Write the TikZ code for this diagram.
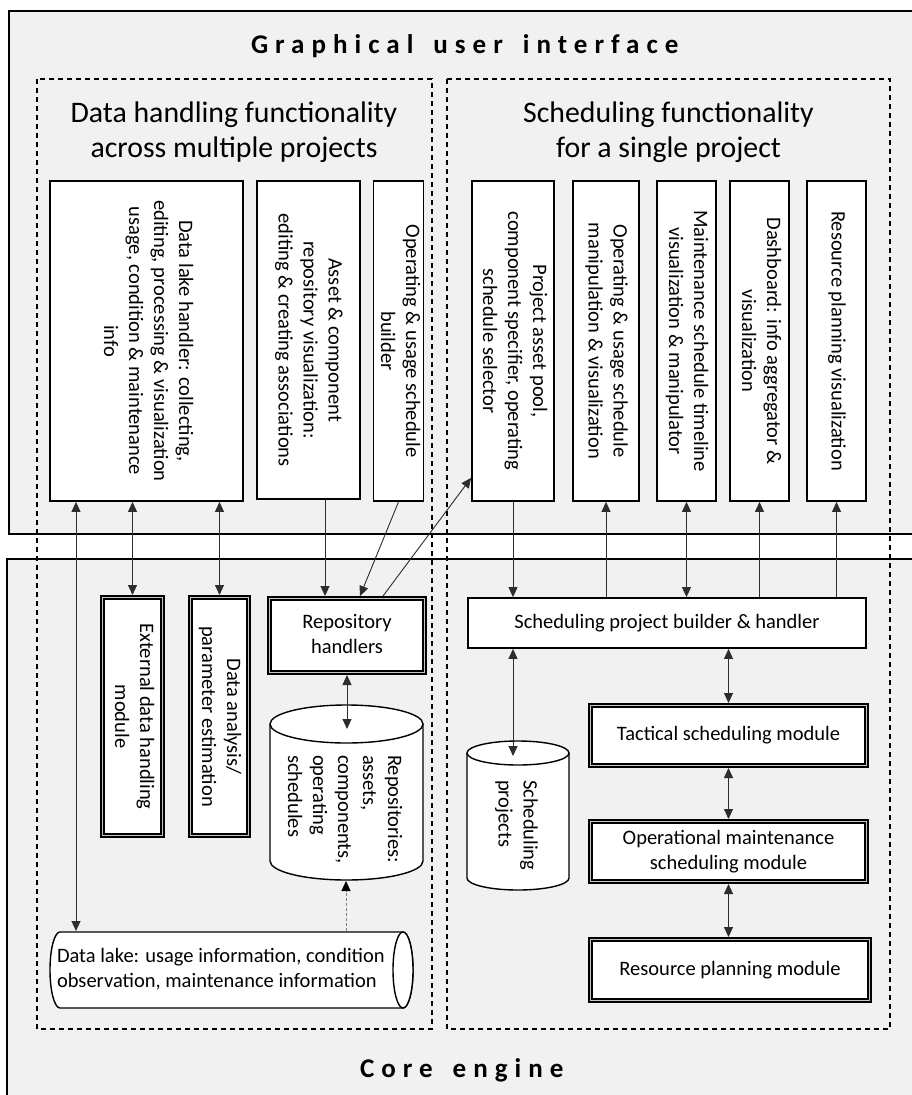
\documentclass[tikz,border=0pt]{standalone}
\usepackage{fontspec}
\usepackage{graphicx}
\setmainfont{Carlito}
\newfontfamily\titlefont[LetterSpace=26]{Carlito}
\usetikzlibrary{arrows.meta}

\definecolor{panelgray}{RGB}{241,241,241}
\definecolor{wire}{RGB}{45,45,45}

\newcommand\boxfont{\fontsize{20.5}{25}\selectfont}
\newcommand\headfont{\fontsize{29.8}{35}\selectfont}
\newcommand\layerfont{\titlefont\bfseries\fontsize{27}{30}\selectfont}
\newcommand\wordgap{\hspace{20pt}}
% text running top to bottom, centred or ragged
\newcommand\sidetext[1]{\rotatebox{-90}{\begin{tabular}{@{}c@{}}#1\end{tabular}}}
\newcommand\sidetextl[1]{\rotatebox{-90}{\begin{tabular}{@{}l@{}}#1\end{tabular}}}

\tikzset{
  layer/.style={draw=black, line width=1.8pt, fill=panelgray},
  group/.style={draw=black, line width=1.4pt, dash pattern=on 5pt off 4pt},
  uibox/.style={draw=black, line width=1.8pt, fill=white, inner sep=0pt, outer sep=0.9pt, font=\boxfont},
  module/.style={draw=black, line width=1.6pt, double=gray!45, double distance=1.6pt, fill=white, inner sep=0pt, outer sep=2.4pt, font=\boxfont},
  store/.style={draw=black, line width=1.4pt, fill=white},
  conn/.style={draw=wire, line width=0.9pt, -{Triangle[length=10pt,width=9pt]}},
  conn2/.style={draw=wire, line width=0.9pt, {Triangle[length=10pt,width=9pt]}-{Triangle[length=10pt,width=9pt]}},
  feed/.style={draw=gray, line width=0.9pt, dash pattern=on 3pt off 2pt, -{Triangle[length=10pt,width=9pt,color=black]}},
  plain/.style={inner sep=0pt, outer sep=0pt}
}

\begin{document}
\begin{tikzpicture}[x=1pt,y=-1pt]
\useasboundingbox (0,0) rectangle (912,1095);
\clip (0,0) rectangle (912,1095);
\fill[white] (0,0) rectangle (912,1095);

% the two layers and the two functional groups
\draw[layer] (9,11) rectangle (930,534);
\draw[layer] (7,559) rectangle (930,1115);
\draw[group] (37,79) rectangle (432,1029);
\draw[group] (447,79) rectangle (890,1029);

\node[plain, anchor=base west, font=\layerfont] (guititle) at (251,53) {Graphical\wordgap user\wordgap interface};
\node[plain, anchor=base west, font=\layerfont] (coretitle) at (360,1077) {Core\wordgap engine};

\node[plain, anchor=base, font=\headfont] (datahead) at (234,122)
  {\begin{tabular}[t]{@{}c@{}}Data handling functionality\\across multiple projects\end{tabular}};
\node[plain, anchor=base, font=\headfont] (schedhead) at (668.5,122)
  {\begin{tabular}[t]{@{}c@{}}Scheduling functionality\\for a single project\end{tabular}};

% user interface components
\node[uibox, minimum width=193, minimum height=320] (lakeui) at (146.5,341)
  {\sidetext{Data lake handler: collecting,\\editing, processing \& visualization\\usage, condition \& maintenance\\info}};
\node[uibox, minimum width=103, minimum height=318] (assetui) at (308.5,340)
  {\sidetext{Asset \& component\\repository visualization:\\editing \& creating associations}};
\node[uibox, minimum width=47, minimum height=320] (opbuild) at (398.5,341)
  {\sidetext{Operating \& usage schedule\\builder}};
\node[uibox, minimum width=82, minimum height=320] (pool) at (513,341)
  {\sidetext{Project asset pool,\\component specifier, operating\\schedule selector}};
\node[uibox, minimum width=66, minimum height=320] (opvis) at (606,341)
  {\sidetext{Operating \& usage schedule\\manipulation \& visualization}};
\node[uibox, minimum width=59, minimum height=320] (mtvis) at (686.5,341)
  {\sidetext{Maintenance schedule timeline\\visualization \& manipulator}};
\node[uibox, minimum width=59, minimum height=320] (dashb) at (759.5,341)
  {\sidetext{Dashboard: info aggregator \&\\visualization}};
\node[uibox, minimum width=59, minimum height=320] (resvis) at (836.5,341)
  {\sidetext{Resource planning visualization}};

% core engine modules
\node[module, minimum width=60.2, minimum height=238.2] (ext) at (132.5,716.5)
  {\sidetext{External data handling\\module}};
\node[module, minimum width=58.2, minimum height=238.2] (dana) at (219.5,716.5)
  {\sidetext{Data analysis/\\parameter estimation}};
\node[module, minimum width=155.2, minimum height=74.2] (rh) at (347,635.5)
  {\begin{tabular}{@{}c@{}}Repository\\handlers\end{tabular}};
\node[uibox, minimum width=398, minimum height=50] (bld) at (667,623)
  {Scheduling project builder \& handler};
\node[module, minimum width=276.2, minimum height=60.2] (tac) at (728.5,735.5)
  {Tactical scheduling module};
\node[module, minimum width=276.2, minimum height=60.2] (opm) at (728.5,851.5)
  {\begin{tabular}{@{}c@{}}Operational maintenance\\scheduling module\end{tabular}};
\node[module, minimum width=279.2, minimum height=61.2] (rpm) at (730,970)
  {Resource planning module};

% repositories store
\path[store] (270,724) -- (270,861) arc[start angle=180,end angle=360,x radius=76.5pt,y radius=19pt] -- (423,724);
\draw[store] (346.5,724) ellipse[x radius=76.5pt,y radius=19pt];
\node[plain, anchor=north, font=\boxfont] (repo) at (343,755)
  {\sidetextl{Repositories:\\assets,\\components,\\operating\\schedules}};
\coordinate (repotop) at (347,729);
\coordinate (repobot) at (346,881);

% scheduling projects store
\path[store] (467,753) -- (467,878) arc[start angle=180,end angle=360,x radius=51pt,y radius=12pt] -- (569,753);
\draw[store] (518,753) ellipse[x radius=51pt,y radius=12pt];
\node[plain, anchor=north, font=\boxfont] (sproj) at (516,780)
  {\sidetextl{Scheduling\\projects}};
\coordinate (sptop) at (513,756);

% data lake
\path[store] (60,932) -- (403,932) arc[start angle=90,end angle=-90,x radius=10pt,y radius=38pt]
  -- (60,1008) arc[start angle=270,end angle=90,x radius=10pt,y radius=38pt] -- cycle;
\draw[store] (403,970) ellipse[x radius=10pt,y radius=38pt];
\node[plain, anchor=base west, font=\boxfont] (lake) at (57,962)
  {\begin{tabular}[t]{@{}l@{}}Data lake: usage information, condition\\observation, maintenance information\end{tabular}};
\coordinate (lakein) at (76,931);
\coordinate (lakeout) at (346,931);

% connectors on the data handling side
\coordinate (rhin) at ([xshift=-22pt]rh.north);
\draw[conn2] (lakeui.south -| lakein) -- (lakein);
\draw[conn2] (lakeui.south -| ext.north) -- (ext.north);
\draw[conn2] (lakeui.south -| dana.north) -- (dana.north);
\draw[conn] (assetui.south -| rhin) -- (rhin);
\draw[conn] (opbuild.south) -- ([xshift=13pt]rh.north);
\draw[conn] ([xshift=36pt]rh.north) -- ([yshift=24pt]pool.south west);
\draw[conn2] (rh.south) -- (repotop);
\draw[feed] (lakeout) -- (repobot);

% connectors on the scheduling side
\draw[conn] (pool.south) -- (pool.south |- bld.north);
\draw[conn] (opvis.south |- bld.north) -- (opvis.south);
\draw[conn2] (mtvis.south) -- (mtvis.south |- bld.north);
\draw[conn] (dashb.south |- bld.north) -- (dashb.south);
\draw[conn] (resvis.south |- bld.north) -- (resvis.south);
\draw[conn2] (bld.south -| sptop) -- (sptop);
\draw[conn2] (bld.south -| tac.north) -- (tac.north);
\draw[conn2] (tac.south) -- (opm.north);
\draw[conn2] (opm.south) -- (opm.south |- rpm.north);
\end{tikzpicture}
\end{document}
